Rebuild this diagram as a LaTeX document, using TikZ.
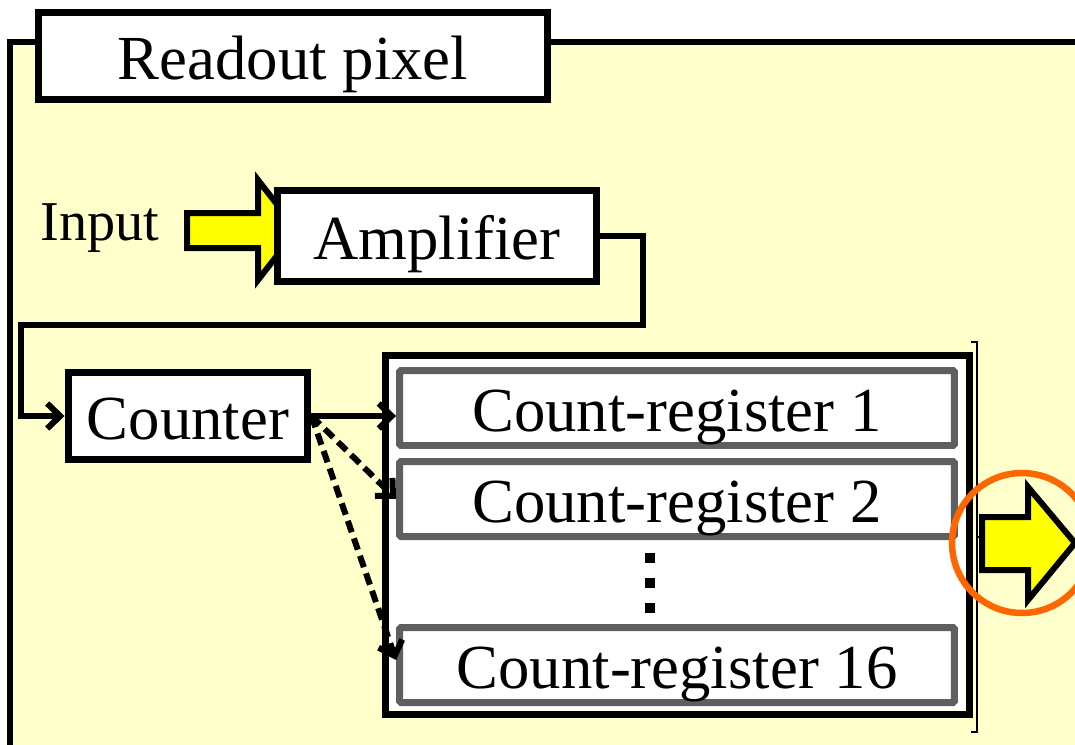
\documentclass[tikz,border=0pt]{standalone}
\usepackage{fontspec}
\setmainfont{Liberation Serif}
\usetikzlibrary{arrows.meta}
\definecolor{padyellow}{HTML}{FFFFCC}
\definecolor{arrowyellow}{HTML}{FFFF00}
\definecolor{reggray}{HTML}{5F5F5F}
\definecolor{ringorange}{HTML}{FF6600}

\begin{document}
\begin{tikzpicture}[x=0.02cm, y=-0.02cm,
    box/.style={draw, line width=0.14cm, fill=white, inner sep=0pt,
        font=\fontsize{35.7}{40}\selectfont, text height=30pt, text depth=3pt},
    regbox/.style={box, draw=reggray, rounded corners=0.03cm,
        minimum width=11.1cm, minimum height=1.5cm},
    wire/.style={line width=0.12cm, -{Straight Barb[length=0.26cm, width=0.5cm, line width=0.12cm]}},
    guess/.style={wire, dash pattern=on 0.24cm off 0.13cm},
    blockarrow/.style={draw, line width=0.12cm, fill=arrowyellow, line join=miter}]
    \useasboundingbox (0,0) rectangle (1075,744);

    % pixel frame
    \draw [line width=0.12cm, fill=padyellow] (10,42) rectangle (1110,760);
    \node [box, minimum width=10.2cm, minimum height=1.76cm] (title) at (293,56) {Readout pixel};

    % front end
    \node [font=\fontsize{32}{36}\selectfont] (input) at (100,228) {Input};
    \draw [blockarrow] (187,213) -- (258,213) -- (258,180) -- (297,230) -- (258,280) -- (258,248) -- (187,248) -- cycle;
    \node [box, minimum width=6.38cm, minimum height=1.84cm] (amp) at (437,236) {Amplifier};
    \node [box, minimum width=4.8cm, minimum height=1.76cm] (counter) at (188,416) {Counter};

    % registers
    \node [draw, line width=0.14cm, fill=white, minimum width=11.7cm, minimum height=7.2cm] (bank) at (677.5,535) {};
    \node [regbox] (reg1) at (677,408) {Count-register 1};
    \node [regbox] (reg2) at (677,499) {Count-register 2};
    \node [regbox] (reg16) at (677,665) {Count-register 16};
    \foreach \y in {558,583,608}
        \fill (645,\y-5) rectangle (655,\y+5);

    \coordinate (bendA) at (643,325);
    \coordinate (bendB) at (21,325);
    \draw [wire, line join=miter] (amp.east) -| (bendA) -- (bendB) |- (counter.west);
    \draw [wire] (counter.east) -- (counter.east -| reg1.west);
    \draw [guess] (counter.east) -- (reg2.west);
    \draw [guess] (counter.east) -- ([yshift=0.1cm]reg16.west);

    % output
    \draw [line width=0.04cm] (971,342) -- (977,342) -- (977,732) -- (971,732);
    \draw [line width=0.04cm] (977,537) -- (983,537);
    \draw [blockarrow] (982,517) -- (1028,517) -- (1028,487) -- (1075,543) -- (1028,600) -- (1028,570) -- (982,570) -- cycle;
    \draw [ringorange, line width=0.13cm] (1022,543) circle [radius=1.4cm];
\end{tikzpicture}
\end{document}
